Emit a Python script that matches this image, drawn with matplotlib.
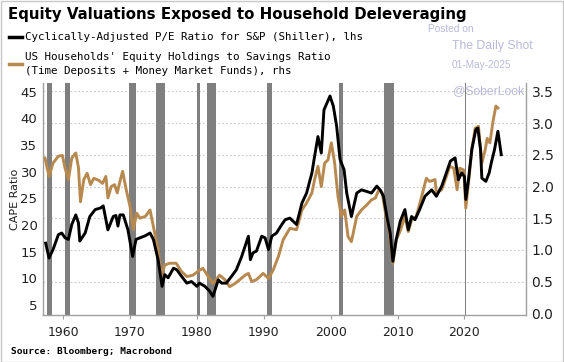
import matplotlib
matplotlib.use("Agg")
import matplotlib.pyplot as plt
from matplotlib.lines import Line2D
from matplotlib.patches import Rectangle

# ---------------- data ----------------
cape_years = [1957.4, 1957.9, 1958.5, 1959.3, 1959.8, 1960.3, 1960.8, 1961.3, 1961.9, 1962.3,
              1962.5, 1963.3, 1964.0, 1964.8, 1965.6, 1966.0, 1966.7, 1967.5, 1967.9, 1968.2,
              1968.5, 1969.0, 1969.7, 1970.4, 1970.9, 1971.5, 1972.3, 1973.0, 1973.5, 1974.2,
              1974.8, 1975.2, 1975.7, 1976.5, 1977.0, 1977.7, 1978.5, 1979.2, 1980.0, 1980.4,
              1981.2, 1981.9, 1982.4, 1983.2, 1983.7, 1984.4, 1985.2, 1985.9, 1986.7, 1987.2,
              1987.7, 1988.0, 1988.4, 1988.9, 1989.7, 1990.2, 1990.7, 1991.2, 1991.9, 1992.7,
              1993.2, 1993.9, 1994.9, 1995.7, 1996.4, 1997.2, 1997.6, 1998.1, 1998.6, 1999.0,
              1999.9, 2000.4, 2000.9, 2001.4, 2002.0, 2002.4, 2003.1, 2003.9, 2004.6, 2005.4,
              2006.1, 2006.9, 2007.4, 2007.9, 2008.4, 2008.9, 2009.3, 2009.8, 2010.4, 2011.1,
              2011.6, 2012.1, 2012.6, 2013.3, 2014.1, 2015.1, 2015.8, 2016.6, 2017.3, 2017.9,
              2018.6, 2019.1, 2019.6, 2020.0, 2020.2, 2020.6, 2021.1, 2021.7, 2022.0, 2022.4,
              2022.6, 2023.2, 2023.7, 2024.0, 2024.5, 2025.0, 2025.5]
cape_values = [16.6, 13.8, 15.4, 18.2, 18.5, 17.6, 17.3, 20.1, 21.9, 20.4,
               17.0, 18.5, 21.6, 22.9, 23.2, 23.6, 19.1, 21.6, 21.8, 19.8,
               21.9, 21.9, 19.1, 14.1, 17.3, 17.6, 18.0, 18.5, 17.3, 13.5,
               8.5, 10.7, 10.1, 11.9, 11.6, 10.4, 9.1, 9.4, 8.5, 9.1,
               8.5, 7.6, 6.6, 9.7, 9.1, 9.1, 10.4, 11.6, 14.1, 16.0,
               17.9, 13.5, 14.8, 15.1, 17.9, 17.6, 15.4, 17.9, 18.5, 20.1,
               21.0, 21.3, 20.1, 24.1, 26.0, 29.8, 32.9, 36.6, 33.5, 41.6,
               44.2, 42.3, 38.5, 32.3, 30.4, 26.0, 21.6, 26.0, 26.6, 26.3,
               26.0, 27.3, 26.6, 25.4, 21.6, 18.5, 13.2, 17.3, 20.7, 22.9,
               19.1, 21.6, 21.0, 22.9, 25.4, 26.6, 25.4, 27.3, 29.8, 32.0,
               32.6, 28.5, 29.8, 29.1, 24.8, 28.5, 34.2, 37.9, 38.2, 34.2,
               28.8, 28.2, 29.8, 31.6, 34.2, 37.6, 33.2]

ratio_years = [1957.3, 1957.9, 1958.5, 1959.3, 1959.9, 1960.3, 1960.8, 1961.3, 1961.9, 1962.3,
               1962.6, 1963.1, 1963.6, 1964.1, 1964.6, 1965.3, 1965.9, 1966.4, 1966.7, 1967.2,
               1967.7, 1968.1, 1968.5, 1968.9, 1969.4, 1970.0, 1970.5, 1971.0, 1971.5, 1972.3,
               1973.0, 1973.5, 1974.2, 1974.7, 1975.2, 1975.9, 1976.9, 1977.7, 1978.5, 1979.4,
               1980.4, 1980.9, 1981.7, 1982.4, 1983.4, 1984.2, 1984.9, 1985.7, 1986.4, 1987.2,
               1987.7, 1988.2, 1988.9, 1989.9, 1990.7, 1991.4, 1992.2, 1992.9, 1993.9, 1994.9,
               1995.7, 1996.4, 1997.2, 1997.6, 1998.1, 1998.6, 1999.1, 1999.6, 2000.1, 2000.6,
               2001.1, 2001.6, 2002.1, 2002.6, 2003.1, 2003.9, 2004.6, 2005.4, 2006.1, 2006.7,
               2007.2, 2007.7, 2008.2, 2008.7, 2009.3, 2009.8, 2010.4, 2011.1, 2011.6, 2012.1,
               2012.8, 2013.6, 2014.3, 2014.8, 2015.6, 2015.8, 2016.6, 2017.3, 2017.8, 2018.4,
               2018.9, 2019.3, 2019.9, 2020.2, 2020.6, 2021.1, 2021.6, 2022.1, 2022.6, 2023.1,
               2023.4, 2023.8, 2024.3, 2024.7, 2025.0]
ratio_values = [2.45, 2.16, 2.37, 2.48, 2.49, 2.29, 2.11, 2.45, 2.53, 2.30,
                1.76, 2.11, 2.21, 2.03, 2.13, 2.10, 2.05, 2.16, 1.82, 2.00,
                2.03, 1.90, 2.08, 2.24, 1.97, 1.69, 1.32, 1.58, 1.50, 1.53,
                1.63, 1.37, 1.00, 0.60, 0.76, 0.79, 0.79, 0.66, 0.58, 0.60,
                0.68, 0.71, 0.58, 0.47, 0.60, 0.53, 0.42, 0.47, 0.53, 0.60,
                0.63, 0.50, 0.53, 0.63, 0.55, 0.68, 0.90, 1.16, 1.34, 1.32,
                1.63, 1.74, 1.90, 2.11, 2.32, 2.00, 2.37, 2.42, 2.69, 2.37,
                1.84, 1.53, 1.63, 1.21, 1.13, 1.53, 1.63, 1.71, 1.79, 1.82,
                1.95, 1.90, 1.58, 1.32, 0.79, 1.16, 1.30, 1.53, 1.29, 1.47,
                1.53, 1.84, 2.13, 2.08, 2.11, 1.90, 1.95, 2.16, 2.32, 2.29,
                1.95, 2.29, 2.26, 1.66, 2.05, 2.58, 2.92, 2.95, 2.37, 2.58,
                2.76, 2.69, 3.05, 3.27, 3.24]

recessions = [(1957.6, 1958.3), (1960.3, 1961.1), (1969.9, 1970.9), (1973.9, 1975.2),
              (1980.0, 1980.5), (1981.5, 1982.9), (1990.5, 1991.2), (2001.2, 2001.9),
              (2007.9, 2009.5), (2020.1, 2020.3)]

x_ticks = [1960, 1970, 1980, 1990, 2000, 2010, 2020]
left_ticks = [5, 10, 15, 20, 25, 30, 35, 40, 45]
right_ticks = [0.0, 0.5, 1.0, 1.5, 2.0, 2.5, 3.0, 3.5]

title = "Equity Valuations Exposed to Household Deleveraging"
legend1 = "Cyclically-Adjusted P/E Ratio for S&P (Shiller), lhs"
legend2a = "US Households' Equity Holdings to Savings Ratio"
legend2b = "(Time Deposits + Money Market Funds), rhs"
source = "Source: Bloomberg; Macrobond"

# ---------------- style ----------------
TAN = "#B8894E"
GRAYBAR = "#7F7F7F"
SPINE = "#A0A0A0"
WM = "#B9B9DC"
W, H = 564, 362

fig = plt.figure(figsize=(W / 100, H / 100), dpi=100)
fig.patch.set_facecolor("white")
fig.patches.append(Rectangle((0.5 / W, 0.5 / H), 1 - 1.5 / W, 1 - 1.5 / H, transform=fig.transFigure,
                             fill=False, edgecolor="#C8C8C8", linewidth=1.0))

x0, x1, y0, y1 = 43, 526, 83, 315
ax = fig.add_axes([x0 / W, 1 - y1 / H, (x1 - x0) / W, (y1 - y0) / H])
ax.set_facecolor("white")
axL = ax.twinx()
# main axes (tan series) on the right, twin (CAPE) on the left, drawn on top
ax.yaxis.tick_right()
ax.yaxis.set_label_position("right")
axL.yaxis.tick_left()
axL.yaxis.set_label_position("left")

ax.set_xlim(1957.0, 2029.2)
ax.set_ylim(-0.027, 3.634)
axL.set_ylim(3.12, 46.65)

for r in right_ticks[1:]:
    ax.axhline(r, color="#C8C8C8", lw=0.8, ls=(0, (1.5, 2)), zorder=0)

for a, b in recessions:
    ax.axvspan(a, b, color=GRAYBAR, lw=0, zorder=1)

ax.plot(ratio_years, ratio_values, color=TAN, lw=2.1, zorder=3, solid_joinstyle="round")
axL.plot(cape_years, cape_values, color="black", lw=2.1, zorder=3, solid_joinstyle="round")

for a in (ax, axL):
    for s in a.spines.values():
        s.set_visible(False)
for s in ("left", "right", "bottom"):
    ax.spines[s].set_visible(True)
    ax.spines[s].set_color(SPINE)
    ax.spines[s].set_linewidth(1.0)

ax.set_xticks(x_ticks)
ax.set_xticklabels([str(t) for t in x_ticks], fontsize=9, color="#202020")
ax.tick_params(axis="x", length=3, width=0.8, color=SPINE, pad=5)

ax.set_yticks(right_ticks)
ax.set_yticklabels([f"{t:.1f}" for t in right_ticks], fontsize=10, color="#202020")
ax.tick_params(axis="y", length=0, pad=4, left=False, labelleft=False, right=True, labelright=True)

axL.set_yticks(left_ticks)
axL.set_yticklabels([str(t) for t in left_ticks], fontsize=9.5, color="#202020")
axL.tick_params(axis="y", length=0, pad=4, right=False, labelright=False, left=True, labelleft=True)
axL.set_ylabel("CAPE Ratio", fontsize=8, color="#202020", labelpad=0)

# ---------------- texts ----------------
fig.text(8 / W, 1 - 15 / H, title, fontsize=10.8, fontweight="bold", va="center", ha="left",
         family="DejaVu Sans", color="black")

mono = "DejaVu Sans Mono"
fig.lines.append(Line2D([9 / W, 22 / W], [1 - 37 / H] * 2, transform=fig.transFigure, color="black", lw=2.5))
fig.text(25 / W, 1 - 37 / H, legend1, fontsize=7.8, family=mono, va="center", ha="left")
fig.lines.append(Line2D([9 / W, 22 / W], [1 - 64 / H] * 2, transform=fig.transFigure, color=TAN, lw=2.5))
fig.text(25 / W, 1 - 56.5 / H, legend2a, fontsize=7.8, family=mono, va="center", ha="left")
fig.text(25 / W, 1 - 71.5 / H, legend2b, fontsize=7.8, family=mono, va="center", ha="left")

wm = "Liberation Sans"
fig.text(428 / W, 1 - 29 / H, "Posted on", fontsize=7.3, family=wm, color=WM, va="center", ha="left")
fig.text(452 / W, 1 - 46 / H, "The Daily Shot", fontsize=8.8, family=wm, color=WM, va="center", ha="left")
fig.text(452 / W, 1 - 65.5 / H, "01-May-2025", fontsize=7.2, family=wm, color=WM, va="center", ha="left")
fig.text(453 / W, 1 - 91 / H, "@SoberLook", fontsize=8.7, family=wm, color=WM, va="center", ha="left", zorder=10)

fig.text(11 / W, 1 - 351 / H, source, fontsize=6.8, family=mono, fontweight="bold", va="center", ha="left")

fig.savefig("out.png", dpi=100, facecolor="white")
